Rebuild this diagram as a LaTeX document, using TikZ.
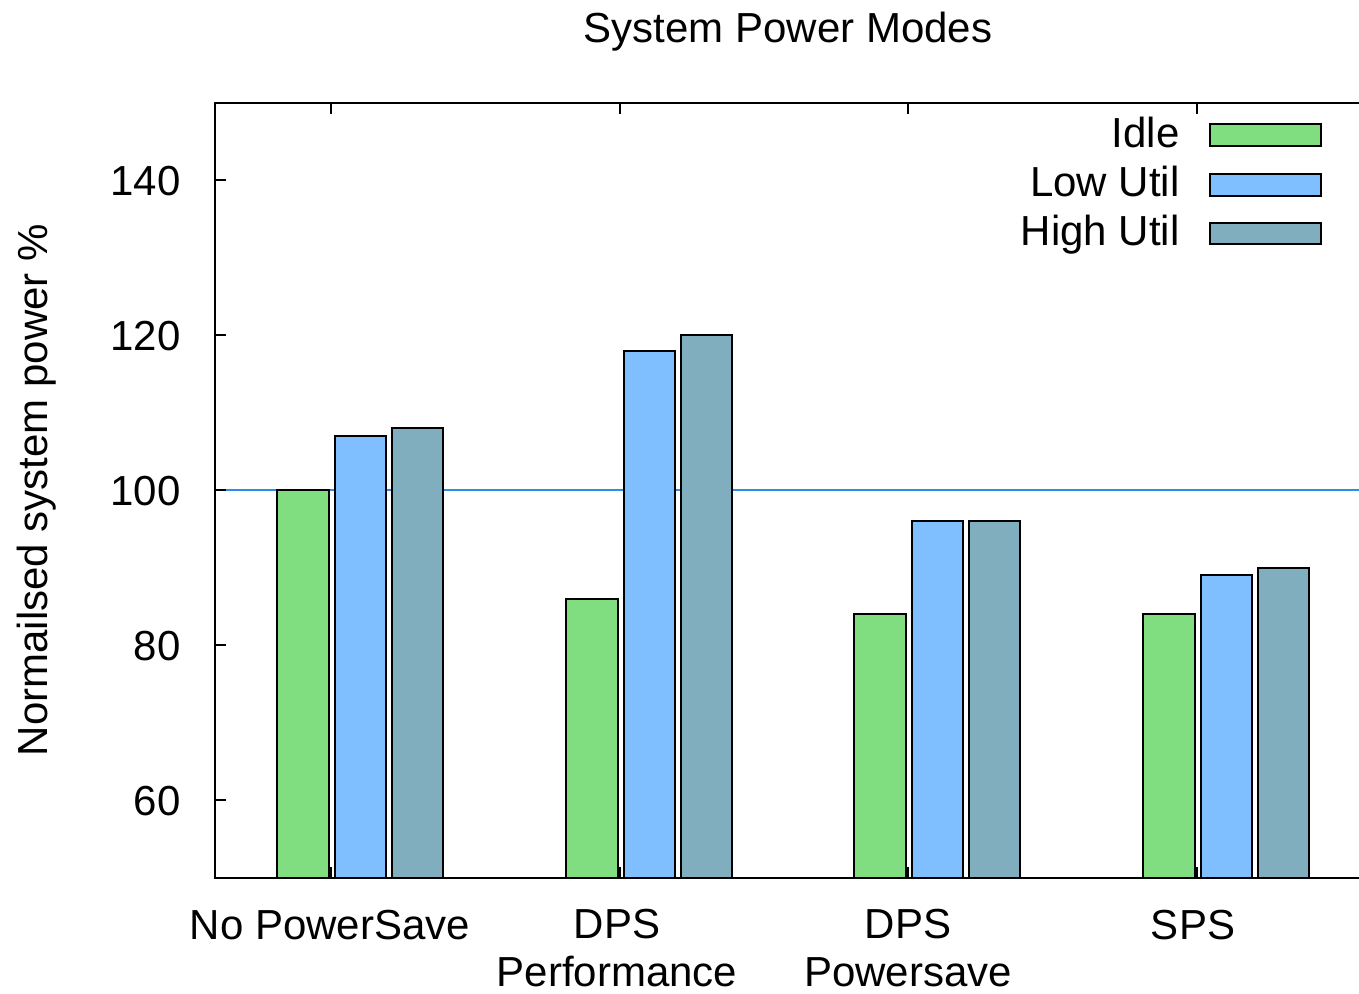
\documentclass[tikz,border=0pt]{standalone}
\usepackage{fontspec}
\setmainfont{Liberation Sans}
\definecolor{idlefill}{RGB}{128,222,128}
\definecolor{lowfill}{RGB}{128,191,255}
\definecolor{highfill}{RGB}{128,174,190}
\definecolor{refline}{RGB}{45,140,240}
\begin{document}
\begin{tikzpicture}[x=0.5pt,y=-0.5pt,
  font=\fontsize{21}{24}\selectfont,
  bar/.style={draw=black,line width=1pt},
  frame/.style={draw=black,line width=1pt},
  tickmark/.style={draw=black,line width=1pt},
  lbl/.style={inner sep=0pt}]
\useasboundingbox (0,0) rectangle (1359,993);

% title
\node[lbl,anchor=base] (title) at (788,42) {System Power Modes};

% y axis label
\node[lbl,rotate=90,anchor=base] (ylabel) at (47,490) {Normailsed system power \%};

% y tick labels
\node[lbl,anchor=base east] (y140) at (181,195) {140};
\node[lbl,anchor=base east] (y120) at (181,350) {120};
\node[lbl,anchor=base east] (y100) at (181,505) {100};
\node[lbl,anchor=base east] (y80)  at (181,660) {80};
\node[lbl,anchor=base east] (y60)  at (181,815) {60};

% reference level at 100 %
\coordinate (refL) at (216,490);
\coordinate (refR) at (1359,490);
\draw[refline,line width=1pt] (refL) -- (refR);

% y ticks
\foreach \yy in {180,335,490,645,800}
  \draw[tickmark] (215,\yy) -- (226,\yy);

% x ticks (top and bottom) and category labels
\foreach \i in {0,1,2,3} {
  \pgfmathsetmacro{\c}{330.7+288.85*\i}
  \draw[tickmark] (\c,103) -- (\c,114);
  \draw[tickmark] (\c,878) -- (\c,867);
}

% bars
\foreach \i/\a/\b/\d in {0/100/107/108, 1/86/118/120, 2/84/96/96, 3/84/89/90} {
  \pgfmathsetmacro{\c}{330.7+288.85*\i}
  \pgfmathsetmacro{\ya}{490-(\a-100)*7.75}
  \pgfmathsetmacro{\yb}{490-(\b-100)*7.75}
  \pgfmathsetmacro{\yd}{490-(\d-100)*7.75}
  \draw[bar,fill=idlefill] (\c-54,878) rectangle (\c-2,\ya);
  \draw[bar,fill=lowfill]  (\c+4,878) rectangle (\c+55,\yb);
  \draw[bar,fill=highfill] (\c+61,878) rectangle (\c+112,\yd);
}

% plot frame
\draw[frame] (1359,103) -- (215,103) -- (215,878) -- (1359,878);

% category labels
\node[lbl,anchor=base] (c1) at (330,939) {No PowerSave};
\node[lbl,anchor=north,align=center] (c2) at (617,909) {DPS\\Performance};
\node[lbl,anchor=north,align=center] (c3) at (908,909) {DPS\\Powersave};
\node[lbl,anchor=base] (c4) at (1193,939) {SPS};

% legend
\node[lbl,anchor=base east] (k1) at (1180,147) {Idle};
\node[lbl,anchor=base east] (k2) at (1180,196) {Low Util};
\node[lbl,anchor=base east] (k3) at (1180,245) {High Util};
\draw[bar,fill=idlefill] (1210,124) rectangle (1321,146);
\draw[bar,fill=lowfill]  (1210,174) rectangle (1321,196);
\draw[bar,fill=highfill] (1210,223) rectangle (1321,244);
\end{tikzpicture}
\end{document}
